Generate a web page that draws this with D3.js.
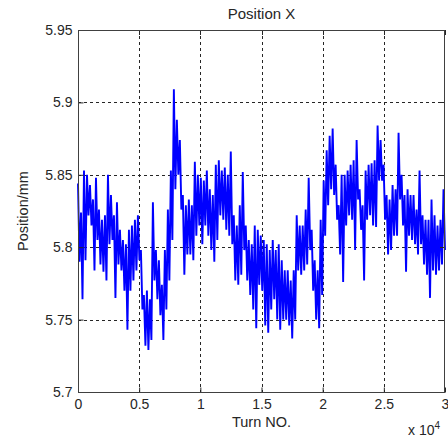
<!DOCTYPE html>
<html>
<head>
<meta charset="utf-8">
<script src="https://cdn.jsdelivr.net/npm/d3@7"></script>
<style>
  body { margin: 0; background: #fff; }
  text { font-family: "Liberation Sans", Arial, sans-serif; fill: #262626; }
</style>
</head>
<body>
<div id="container"></div>
<script>
"use strict";

const title = "Position X";
const xLabel = "Turn NO.";
const yLabel = "Position/mm";
const xTicks = [0, 5000, 10000, 15000, 20000, 25000, 30000];
const yTicks = [5.7, 5.75, 5.8, 5.85, 5.9, 5.95];
const turnMax = 30000;

// Top and bottom of the noisy trace, one pair per ~245 turns.
const upper = [
  5.844, 5.824, 5.853, 5.850, 5.843, 5.833, 5.848, 5.826, 5.819, 5.822,
  5.850, 5.836, 5.822, 5.831, 5.812, 5.805, 5.802, 5.812, 5.815, 5.819,
  5.822, 5.798, 5.767, 5.770, 5.764, 5.831, 5.798, 5.791, 5.774, 5.798,
  5.826, 5.853, 5.909, 5.888, 5.874, 5.836, 5.829, 5.833, 5.829, 5.859,
  5.850, 5.848, 5.846, 5.853, 5.840, 5.836, 5.857, 5.860, 5.853, 5.855,
  5.850, 5.866, 5.822, 5.815, 5.829, 5.852, 5.815, 5.805, 5.802, 5.815,
  5.812, 5.808, 5.805, 5.802, 5.798, 5.805, 5.798, 5.802, 5.791, 5.784,
  5.784, 5.777, 5.784, 5.822, 5.815, 5.815, 5.826, 5.848, 5.812, 5.791,
  5.784, 5.819, 5.846, 5.867, 5.877, 5.882, 5.857, 5.829, 5.850, 5.850,
  5.853, 5.857, 5.860, 5.874, 5.840, 5.829, 5.853, 5.857, 5.858, 5.860,
  5.884, 5.874, 5.857, 5.836, 5.833, 5.843, 5.840, 5.879, 5.850, 5.836,
  5.840, 5.836, 5.836, 5.826, 5.853, 5.822, 5.819, 5.819, 5.833, 5.822,
  5.815, 5.819, 5.840
];
const lower = [
  5.790, 5.764, 5.791, 5.822, 5.815, 5.784, 5.805, 5.788, 5.783, 5.777,
  5.802, 5.805, 5.765, 5.788, 5.784, 5.770, 5.743, 5.770, 5.777, 5.784,
  5.791, 5.757, 5.732, 5.729, 5.736, 5.777, 5.764, 5.753, 5.736, 5.757,
  5.777, 5.805, 5.840, 5.850, 5.826, 5.781, 5.795, 5.795, 5.791, 5.808,
  5.815, 5.802, 5.815, 5.808, 5.798, 5.790, 5.805, 5.822, 5.819, 5.812,
  5.808, 5.802, 5.777, 5.774, 5.781, 5.798, 5.777, 5.767, 5.757, 5.744,
  5.774, 5.770, 5.746, 5.741, 5.757, 5.764, 5.750, 5.743, 5.750, 5.750,
  5.746, 5.737, 5.750, 5.784, 5.781, 5.784, 5.788, 5.798, 5.770, 5.750,
  5.744, 5.767, 5.808, 5.829, 5.840, 5.836, 5.819, 5.795, 5.776, 5.815,
  5.822, 5.819, 5.798, 5.833, 5.812, 5.777, 5.819, 5.822, 5.815, 5.814,
  5.846, 5.846, 5.819, 5.795, 5.798, 5.808, 5.808, 5.833, 5.815, 5.783,
  5.808, 5.805, 5.802, 5.795, 5.802, 5.788, 5.781, 5.765, 5.784, 5.781,
  5.784, 5.788, 5.798
];

// Alternate top/bottom so the line fills the band like the original trace.
const values = upper.flatMap((u, i) => [u, lower[i]]);
const series = values.map((v, k) => ({ turn: (k * turnMax) / (values.length - 1), value: v }));

const width = 448;
const height = 439;
const margin = { top: 30, right: 3, bottom: 47, left: 78 };

const svg = d3.select("#container").append("svg").attr("width", width).attr("height", height);

const x = d3.scaleLinear().domain([0, turnMax]).range([margin.left, width - margin.right]);
const y = d3.scaleLinear().domain([5.7, 5.95]).range([height - margin.bottom, margin.top]);

const gridColor = "#262626";

// Grid lines (dotted, MATLAB style).
svg
  .append("g")
  .selectAll("line")
  .data(xTicks.slice(1, -1))
  .join("line")
  .attr("x1", (d) => Math.round(x(d)) + 0.5)
  .attr("x2", (d) => Math.round(x(d)) + 0.5)
  .attr("y1", y(5.95))
  .attr("y2", y(5.7))
  .attr("stroke", gridColor)
  .attr("stroke-dasharray", "3,3");

svg
  .append("g")
  .selectAll("line")
  .data(yTicks.slice(1, -1))
  .join("line")
  .attr("x1", x(0))
  .attr("x2", x(turnMax))
  .attr("y1", (d) => Math.round(y(d)) + 0.5)
  .attr("y2", (d) => Math.round(y(d)) + 0.5)
  .attr("stroke", gridColor)
  .attr("stroke-dasharray", "3,3");

svg
  .append("path")
  .datum(series)
  .attr("fill", "none")
  .attr("stroke", "#0000ff")
  .attr("stroke-width", 1.9)
  .attr("stroke-linejoin", "miter")
  .attr("stroke-miterlimit", 2)
  .attr(
    "d",
    d3
      .line()
      .x((d) => x(d.turn))
      .y((d) => y(d.value))
  );

// Axes with inward ticks.
const yAxis = d3
  .axisLeft(y)
  .tickValues(yTicks)
  .tickSize(-5)
  .tickPadding(6)
  .tickFormat((d) => String(+d.toFixed(2)));
const xAxis = d3
  .axisBottom(x)
  .tickValues(xTicks)
  .tickSize(-5)
  .tickPadding(7)
  .tickFormat((d) => String(d / 10000));

svg
  .append("g")
  .attr("transform", `translate(${margin.left + 0.5}, 0)`)
  .style("font-size", "14px")
  .call(yAxis)
  .call((g) => g.select(".domain").remove());
svg
  .append("g")
  .attr("transform", `translate(0, ${height - margin.bottom + 0.5})`)
  .style("font-size", "14px")
  .call(xAxis)
  .call((g) => g.select(".domain").remove());

svg.selectAll(".tick line").attr("stroke", gridColor);
svg.selectAll(".tick text").attr("fill", "#262626").style("font-family", '"Liberation Sans", Arial, sans-serif');

// Right and top ticks mirror the left and bottom ones.
svg
  .append("g")
  .selectAll("line")
  .data(yTicks)
  .join("line")
  .attr("x1", x(turnMax) - 5)
  .attr("x2", x(turnMax))
  .attr("y1", (d) => Math.round(y(d)) + 0.5)
  .attr("y2", (d) => Math.round(y(d)) + 0.5)
  .attr("stroke", gridColor);
svg
  .append("g")
  .selectAll("line")
  .data(xTicks)
  .join("line")
  .attr("x1", (d) => Math.round(x(d)) + 0.5)
  .attr("x2", (d) => Math.round(x(d)) + 0.5)
  .attr("y1", y(5.95))
  .attr("y2", y(5.95) + 5)
  .attr("stroke", gridColor);

svg
  .append("rect")
  .attr("x", margin.left + 0.5)
  .attr("y", margin.top + 0.5)
  .attr("width", x(turnMax) - x(0) - 1)
  .attr("height", y(5.7) - y(5.95))
  .attr("fill", "none")
  .attr("stroke", "#404040");

svg
  .append("text")
  .attr("x", (x(0) + x(turnMax)) / 2)
  .attr("y", 19)
  .attr("text-anchor", "middle")
  .style("font-size", "15px")
  .text(title);

svg
  .append("text")
  .attr("x", (x(0) + x(turnMax)) / 2)
  .attr("y", 427)
  .attr("text-anchor", "middle")
  .style("font-size", "14.5px")
  .text(xLabel);

svg
  .append("text")
  .attr("transform", `translate(28, ${(y(5.7) + y(5.95)) / 2}) rotate(-90)`)
  .attr("text-anchor", "middle")
  .style("font-size", "14.5px")
  .text(yLabel);

// Exponent label for the x axis.
const expo = svg.append("text").attr("x", 408).attr("y", 435).style("font-size", "14px");
expo.append("tspan").text("x 10");
expo.append("tspan").attr("dy", -6).style("font-size", "10px").text("4");
</script>
</body>
</html>
